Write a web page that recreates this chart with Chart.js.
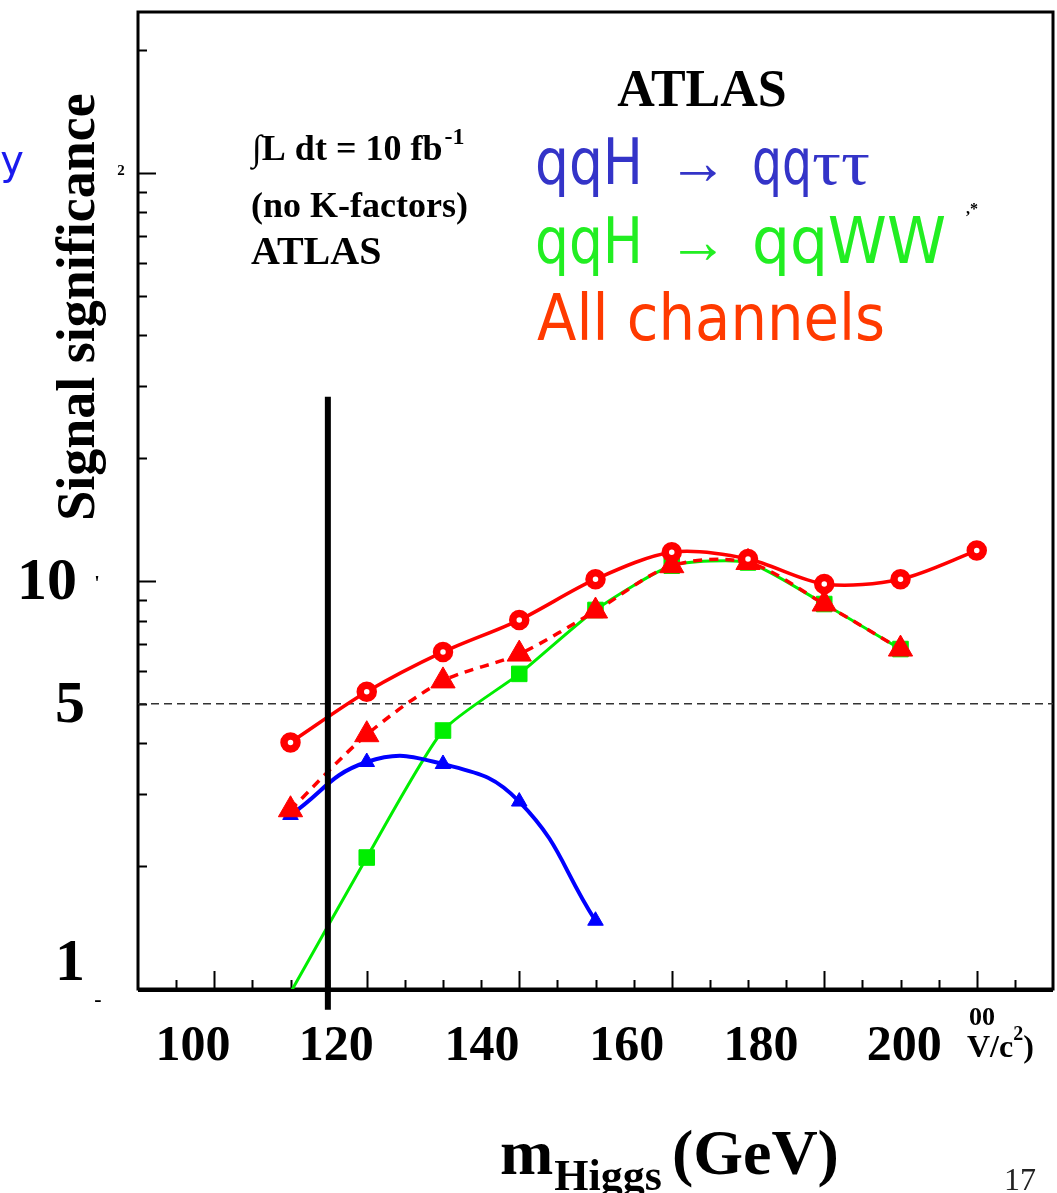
<!DOCTYPE html>
<html>
<head>
<meta charset="utf-8">
<title>Signal significance vs Higgs mass</title>
<script src="https://cdn.jsdelivr.net/npm/chart.js@4/dist/chart.umd.min.js"></script>
<style>
  html, body { margin: 0; padding: 0; background: #fff; overflow: hidden; }
  #wrap { position: relative; width: 1057px; height: 1193px; }
</style>
</head>
<body>
<div id="wrap"><canvas id="sigChart"></canvas></div>
<script>
// Higgs masses (GeV) and the significance of each channel
const MASSES = [110, 120, 130, 140, 150, 160, 170, 180, 190, 200];
const TAU_TAU = [2.67, 3.60, 3.56, 2.88, 1.47];
const WW = [0.98, 2.10, 4.30, 5.92, 8.49, 10.9, 11.1, 8.78, 6.81];
const ALL_VBF = [2.75, 4.20, 5.69, 6.62, 8.44, 10.9, 11.1, 8.78, 6.81];
const ALL_CHANNELS = [4.02, 5.35, 6.70, 8.02, 10.1, 11.76, 11.32, 9.83, 10.1, 11.87];

const DISCOVERY_LEVEL = 5;
const LEP_LIMIT = 114.9;
const LEP_LINE_SPAN = [28.3, 0.89];

const X_MIN = 90;
const X_MAX = 210;
const Y_MIN = 1;
const Y_MAX = 248;

// tick labels pasted over the frame
const X_TICK_LABELS = ["100", "120", "140", "160", "180", "200"];
const X_TICK_AT = [97.2, 116.0, 135.1, 154.1, 171.7, 190.5];
const Y_TICK_LABELS = ["1", "5", "10", "2"];
const Y_TICK_AT = [1.165, 5, 10, 100];

const SERIF = '"Liberation Serif", "Times New Roman", serif';
const HAND = '"Comic Sans MS", "DejaVu Sans", sans-serif';

const RED = "#ff0000";
const BLUE = "#0000ff";
const GREEN = "#00ee00";

function toPoints(values) {
  return values.map((y, i) => ({ x: MASSES[i], y }));
}

// ROOT-style frame with inward tick marks
const framePlugin = {
  id: "frame",
  beforeDatasetsDraw(chart) {
    const { ctx, chartArea: area, scales } = chart;
    ctx.save();
    ctx.strokeStyle = "#000";
    ctx.lineWidth = 2;
    ctx.beginPath();
    for (let v = X_MIN + 5; v < X_MAX; v += 5) {
      const px = Math.round(scales.x.getPixelForValue(v)) + 0.5;
      const len = v % 20 === 0 ? 18 : 9;
      ctx.moveTo(px, area.bottom);
      ctx.lineTo(px, area.bottom - len);
    }
    for (const decade of [1, 10, 100]) {
      for (let k = 1; k <= 9; k += 1) {
        const v = k * decade;
        if (v <= Y_MIN || v >= Y_MAX) continue;
        const py = Math.round(scales.y.getPixelForValue(v)) + 0.5;
        const len = k === 1 ? 18 : 9;
        ctx.moveTo(area.left, py);
        ctx.lineTo(area.left + len, py);
      }
    }
    ctx.stroke();
    ctx.lineWidth = 3;
    ctx.strokeRect(area.left, area.top, area.right - area.left, area.bottom - area.top);
    ctx.beginPath();
    ctx.moveTo(area.left, area.bottom + 1.5);
    ctx.lineTo(area.right, area.bottom + 1.5);
    ctx.stroke();
    ctx.restore();
  },
};

function put(ctx, text, x, y, font, color, align = "left", baseline = "alphabetic") {
  ctx.font = font;
  ctx.fillStyle = color;
  ctx.textAlign = align;
  ctx.textBaseline = baseline;
  ctx.fillText(text, x, y);
}

// hand-lettered legend pieces, each squeezed or stretched into its slot
function putHand(ctx, parts, y, color) {
  for (const part of parts) {
    ctx.save();
    ctx.font = part.font;
    const sx = part.w / ctx.measureText(part.text).width;
    ctx.translate(part.x, y);
    ctx.scale(sx, 1.15);
    put(ctx, part.text, 0, 0, part.font, color);
    ctx.restore();
  }
}

const textPlugin = {
  id: "annotations",
  afterDraw(chart) {
    const { ctx, scales } = chart;
    ctx.save();

    // y tick labels
    Y_TICK_LABELS.forEach((label, i) => {
      const py = scales.y.getPixelForValue(Y_TICK_AT[i]);
      if (label === "2") {
        put(ctx, label, 121, py - 2, `bold 15px ${SERIF}`, "#000", "center", "middle");
      } else {
        const cx = label === "10" ? 47 : 70;
        put(ctx, label, cx, py + 3, `bold 60px ${SERIF}`, "#000", "center", "middle");
      }
    });
    put(ctx, "'", 97, 590, `bold 20px ${SERIF}`, "#000", "center");
    put(ctx, "-", 98, 1006, `bold 22px ${SERIF}`, "#000", "center");

    // y axis title
    ctx.save();
    ctx.translate(80, 307);
    ctx.rotate(-Math.PI / 2);
    put(ctx, "Signal significance", 0, 0, `bold 54px ${SERIF}`, "#000", "center", "middle");
    ctx.restore();

    put(ctx, "y", 24, 174, `40px "DejaVu Sans", sans-serif`, "#1a1aee", "right");

    // luminosity box
    ctx.font = `bold 36px ${SERIF}`;
    put(ctx, "\u222BL dt = 10 fb", 252, 160, ctx.font, "#000");
    const lumW = ctx.measureText("\u222BL dt = 10 fb").width;
    put(ctx, "-1", 252 + lumW + 2, 144, `bold 24px ${SERIF}`, "#000");
    put(ctx, "(no K-factors)", 251, 217, `bold 36px ${SERIF}`, "#000");
    put(ctx, "ATLAS", 251, 264, `bold 40px ${SERIF}`, "#000");

    // legend
    put(ctx, "ATLAS", 702, 106, `bold 52px ${SERIF}`, "#000", "center");
    putHand(ctx, [
      { text: "qqH", x: 535, w: 108, font: `56px ${HAND}` },
      { text: "\u2192", x: 668, w: 60, font: `56px ${SERIF}` },
      { text: "qq", x: 752, w: 60, font: `56px ${HAND}` },
      { text: "\u03C4\u03C4", x: 812, w: 58, font: `56px ${SERIF}` },
    ], 184, "#3434c8");
    putHand(ctx, [
      { text: "qqH", x: 535, w: 108, font: `56px ${HAND}` },
      { text: "\u2192", x: 668, w: 60, font: `56px ${SERIF}` },
      { text: "qqWW", x: 752, w: 194, font: `56px ${HAND}` },
    ], 263, "#22ee22");
    putHand(ctx, [
      { text: "All channels", x: 537, w: 348, font: `56px ${HAND}` },
    ], 340, "#ff3a00");
    put(ctx, ",*", 972, 214, `bold 16px ${SERIF}`, "#000", "center");

    // x axis title and leftovers of the original labels
    let x = 500;
    ctx.font = `bold 64px ${SERIF}`;
    put(ctx, "m", x, 1174, ctx.font, "#000");
    x += ctx.measureText("m").width + 1;
    put(ctx, "Higgs", x, 1190, `bold 44px ${SERIF}`, "#000");
    ctx.font = `bold 44px ${SERIF}`;
    x += ctx.measureText("Higgs").width + 10;
    put(ctx, "(GeV)", x, 1174, `bold 64px ${SERIF}`, "#000");

    put(ctx, "00", 982, 1025, `bold 26px ${SERIF}`, "#000", "center");
    ctx.font = `bold 32px ${SERIF}`;
    put(ctx, "V/c", 967, 1057, ctx.font, "#000");
    const vcW = ctx.measureText("V/c").width;
    put(ctx, "2", 967 + vcW, 1040, `bold 20px ${SERIF}`, "#000");
    put(ctx, ")", 967 + vcW + 10, 1057, `bold 32px ${SERIF}`, "#000");
    put(ctx, "17", 1020, 1190, `32px ${SERIF}`, "#222", "center");

    ctx.restore();
  },
};

const datasets = [
  {
    label: "discovery",
    data: [{ x: X_MIN, y: DISCOVERY_LEVEL }, { x: X_MAX, y: DISCOVERY_LEVEL }],
    borderColor: "#333",
    borderWidth: 1.6,
    borderDash: [8, 5],
    pointRadius: 0,
    order: 10,
  },
  {
    label: "qqH -> qqWW",
    data: toPoints(WW),
    borderColor: GREEN,
    backgroundColor: GREEN,
    borderWidth: 3,
    tension: 0.2,
    pointStyle: "rect",
    pointRadius: (c) => (c.raw && c.raw.y < Y_MIN ? 0 : 11),
    pointBorderWidth: 1,
    order: 5,
  },
  {
    label: "qqH -> qqtautau",
    data: toPoints(TAU_TAU),
    borderColor: BLUE,
    backgroundColor: BLUE,
    borderWidth: 4,
    tension: 0.45,
    pointStyle: "triangle",
    pointRadius: 9,
    pointBorderWidth: 1,
    order: 4,
  },
  {
    label: "all VBF",
    data: toPoints(ALL_VBF),
    borderColor: RED,
    backgroundColor: RED,
    borderWidth: 3.5,
    borderDash: [9, 7],
    tension: 0.3,
    pointStyle: "triangle",
    pointRadius: 14,
    pointBorderWidth: 1,
    order: 3,
  },
  {
    label: "All channels",
    data: toPoints(ALL_CHANNELS),
    borderColor: RED,
    backgroundColor: "#fff",
    borderWidth: 3.5,
    tension: 0.3,
    pointStyle: "circle",
    pointRadius: 6.5,
    pointBorderWidth: 7.5,
    order: 2,
  },
  {
    label: "LEP limit",
    data: LEP_LINE_SPAN.map((y) => ({ x: LEP_LIMIT, y })),
    borderColor: "#000",
    borderWidth: 6,
    pointRadius: 0,
    clip: false,
    order: 1,
  },
];

new Chart(document.getElementById("sigChart"), {
  type: "line",
  data: { datasets },
  options: {
    responsive: true,
    maintainAspectRatio: false,
    animation: false,
    events: [],
    layout: {
      autoPadding: false,
      padding: { top: 12, right: 4, left: 0, bottom: 0 },
    },
    plugins: {
      legend: { display: false },
      tooltip: { enabled: false },
    },
    scales: {
      x: {
        type: "linear",
        min: X_MIN,
        max: X_MAX,
        afterFit: (scale) => {
          scale.height = 204;
          scale.paddingLeft = 0;
          scale.paddingRight = 0;
        },
        afterBuildTicks: (scale) => {
          scale.ticks = X_TICK_AT.map((value) => ({ value }));
        },
        ticks: {
          autoSkip: false,
          maxRotation: 0,
          padding: 28,
          color: "#000",
          font: { family: SERIF, weight: "bold", size: 50 },
          callback: (value, index) => X_TICK_LABELS[index],
        },
        grid: { display: false, drawTicks: false },
        border: { display: false },
      },
      y: {
        type: "logarithmic",
        min: Y_MIN,
        max: Y_MAX,
        afterFit: (scale) => {
          scale.width = 138;
          scale.paddingTop = 0;
          scale.paddingBottom = 0;
        },
        ticks: { display: false },
        grid: { display: false, drawTicks: false },
        border: { display: false },
      },
    },
  },
  plugins: [framePlugin, textPlugin],
});
</script>
</body>
</html>
